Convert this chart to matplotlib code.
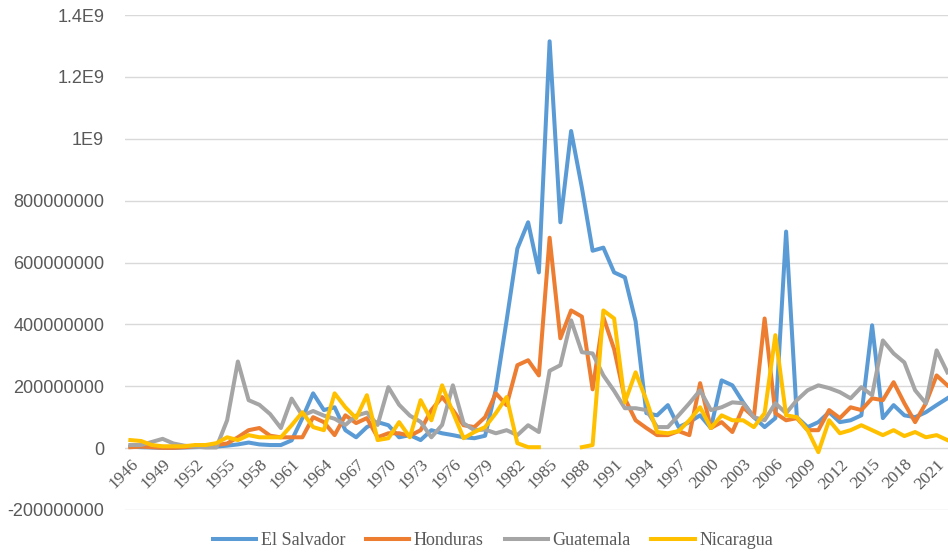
import matplotlib
matplotlib.use("Agg")
import matplotlib.pyplot as plt
import numpy as np

# values in millions
years = list(range(1946, 2023))

el_salvador = [
    5, 3, 2, 1, 1, 2, 3, 4, 5, 8,
    12, 18, 12, 10, 10, 25, 97, 177, 123, 132,
    58, 35, 68, 84, 74, 35, 42, 26, 58, 48,
    42, 35, 32, 40, 190, 413, 645, 730, 568, 1315,
    730, 1025, 842, 638, 648, 568, 552, 410, 113, 106,
    139, 68, 84, 106, 65, 219, 203, 148, 100, 68,
    97, 700, 100, 68, 84, 116, 84, 90, 106, 397,
    97, 139, 106, 100, 116, 139, 161,
]
honduras = [
    3, 5, 3, 1, 1, 3, 5, 8, 10, 15,
    35, 58, 65, 40, 35, 35, 35, 100, 84, 42,
    106, 81, 97, 35, 48, 48, 40, 58, 123, 165,
    123, 74, 68, 100, 177, 139, 268, 284, 235, 680,
    355, 445, 425, 190, 423, 320, 160, 90, 65, 42,
    42, 55, 42, 210, 65, 84, 52, 132, 100, 419,
    113, 90, 97, 58, 58, 123, 97, 132, 123, 161,
    155, 213, 145, 84, 145, 235, 203,
]
guatemala = [
    10, 10, 20, 30, 15, 8, 5, 2, 2, 90,
    280, 155, 140, 110, 65, 160, 105, 120, 105, 95,
    75, 105, 115, 75, 197, 140, 105, 85, 35, 75,
    203, 80, 58, 60, 48, 58, 42, 74, 52, 250,
    268, 413, 310, 306, 235, 185, 129, 129, 123, 68,
    68, 106, 145, 187, 123, 132, 148, 145, 100, 90,
    145, 113, 155, 187, 203, 194, 181, 161, 197, 171,
    348, 306, 277, 187, 145, 316, 245,
]
nicaragua = [
    26, 23, 10, 6, 6, 6, 10, 10, 16, 35,
    26, 42, 35, 35, 35, 74, 116, 68, 58, 177,
    132, 97, 171, 26, 32, 84, 35, 155, 90, 203,
    116, 32, 52, 68, 113, 165, 16, 3, 3, np.nan,
    np.nan, np.nan, 3, 10, 445, 419, 148, 245, 155, 52,
    48, 55, 90, 132, 65, 106, 90, 90, 68, 113,
    365, 106, 100, 58, -13, 90, 48, 58, 74, 58,
    42, 58, 39, 52, 35, 42, 26,
]

series = [
    ("El Salvador", el_salvador, "#5B9BD5"),
    ("Honduras", honduras, "#ED7D31"),
    ("Guatemala", guatemala, "#A5A5A5"),
    ("Nicaragua", nicaragua, "#FFC000"),
]

y_ticks = [-2e8, 0, 2e8, 4e8, 6e8, 8e8, 1e9, 1.2e9, 1.4e9]
y_labels = ["-200000000", "0", "200000000", "400000000", "600000000",
            "800000000", "1E9", "1.2E9", "1.4E9"]

W, H = 948, 559
fig = plt.figure(figsize=(W / 100, H / 100), dpi=100)
ax = fig.add_axes([125 / W, 49 / H, (W - 125) / W, (510 - 15) / H])

x = np.arange(len(years))
for name, vals, color in series:
    ax.plot(x, np.array(vals, dtype=float) * 1e6, color=color, lw=2.9,
            label=name, solid_joinstyle="round")

ax.set_xlim(-0.5, 76.06)
ax.set_ylim(-2e8, 1.4e9)
ax.set_yticks(y_ticks)
ax.set_yticklabels(y_labels, fontfamily="Liberation Sans", fontsize=13,
                   color="#595959")
ax.tick_params(axis="y", length=0, pad=15)
ax.grid(axis="y", color="#D9D9D9", lw=1)
ax.set_axisbelow(True)
for s in ax.spines.values():
    s.set_visible(False)

# x labels every 3 years, placed on the zero line
ax.set_xticks([])
for i in range(0, len(years), 3):
    ax.text(i + 0.55, -0.45e8, str(years[i]), rotation=45, ha="right",
            va="center", rotation_mode="anchor", fontfamily="Liberation Serif",
            fontsize=12.5, color="#595959")

fig.legend(loc="lower center", bbox_to_anchor=(0.52, -0.012), ncol=4,
           frameon=False, handlelength=2.4, columnspacing=1.15,
           handletextpad=0.25,
           prop={"family": "Liberation Serif", "size": 13},
           labelcolor="#595959")

fig.savefig("out.png", dpi=100)
